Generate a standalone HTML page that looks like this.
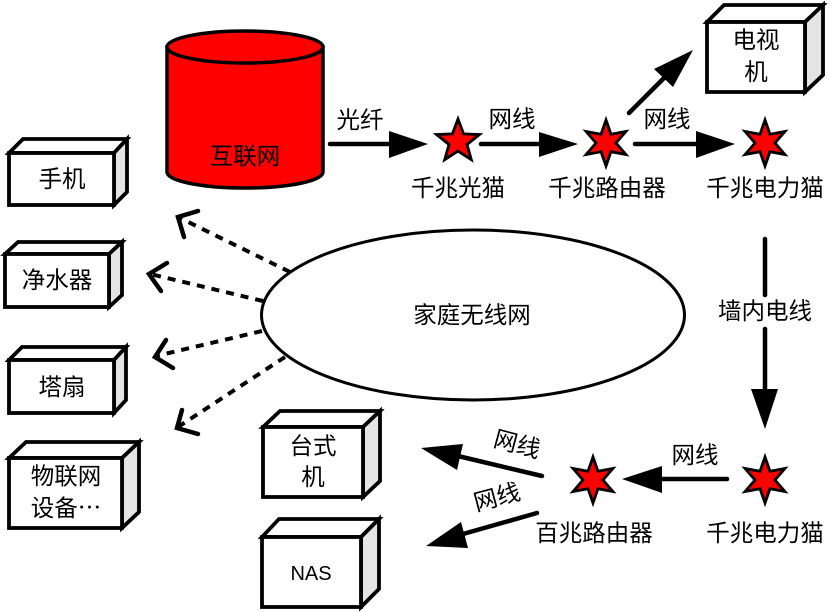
<!DOCTYPE html>
<html><head><meta charset="utf-8"><style>
html,body{margin:0;padding:0;background:#fff}
svg{display:block}
text{font-family:"Liberation Sans","Noto Sans CJK SC",sans-serif;font-size:23.5px;text-anchor:middle;fill:#000}
.b{fill:#fff;stroke:#000;stroke-width:3.8;stroke-linejoin:miter}
.s{fill:#e4e4e4;stroke:#000;stroke-width:3.8}
.l{stroke:#000;stroke-width:4.5;fill:none;stroke-linecap:round}
.d{stroke:#000;stroke-width:4;fill:none;stroke-dasharray:8 7}
.o{stroke:#000;stroke-width:4.5;fill:none;stroke-linecap:round;stroke-linejoin:miter}
.star{fill:#f00;stroke:#000;stroke-width:2.8;stroke-linejoin:miter;stroke-miterlimit:12}
</style></head><body>
<svg width="835" height="612" viewBox="0 0 835 612" xmlns="http://www.w3.org/2000/svg">
<defs>
<polygon id="s6" class="star" points="0,-23 5,-8.7 19.9,-11.5 10,0 19.9,11.5 5,8.7 0,23 -5,8.7 -19.9,11.5 -10,0 -19.9,-11.5 -5,-8.7"/>
</defs>

<!-- boxes -->
<g>
<path class="b" d="M9 153L23 139H127L114 153Z"/><path class="s" d="M114 153L127 139V192L114 205Z"/><rect class="b" x="9" y="153" width="105" height="52"/>
<path class="b" d="M5 254L18 242H122L109 254Z"/><path class="s" d="M109 254L122 242V295L109 307Z"/><rect class="b" x="5" y="254" width="104" height="53"/>
<path class="b" d="M9 360L22 347H126L114 360Z"/><path class="s" d="M114 360L126 347V400L114 413Z"/><rect class="b" x="9" y="360" width="105" height="53"/>
<path class="b" d="M9 458L26 442H139L122 458Z"/><path class="s" d="M122 458L139 442V512L122 528Z"/><rect class="b" x="9" y="458" width="113" height="70"/>
<path class="b" d="M707 22L724 5H823L805 22Z"/><path class="s" d="M805 22L823 5V75L805 92Z"/><rect class="b" x="707" y="22" width="98" height="70"/>
<path class="b" d="M263 427L280 411H380L363 427Z"/><path class="s" d="M363 427L380 411V481L363 497Z"/><rect class="b" x="263" y="427" width="100" height="70"/>
<path class="b" d="M262 537L279 519H379L361 537Z"/><path class="s" d="M361 537L379 519V589L361 607Z"/><rect class="b" x="262" y="537" width="99" height="70"/>
</g>

<!-- cylinder -->
<path d="M167 47V172C167 181 202 188 245 188C288 188 323 181 323 172V47Z" fill="#f00" stroke="#000" stroke-width="3.5"/>
<ellipse cx="245" cy="47" rx="78" ry="16" fill="#f00" stroke="#000" stroke-width="3.5"/>

<!-- ellipse -->
<ellipse cx="473" cy="315" rx="211.5" ry="85" fill="#fff" stroke="#000" stroke-width="3"/>

<!-- dashed -->
<line class="d" x1="290" y1="272" x2="178" y2="217"/>
<polyline class="o" points="198,211 178,217 184,237"/>
<line class="d" x1="263" y1="301" x2="150" y2="274"/>
<polyline class="o" points="167,263 149,274 161,291"/>
<line class="d" x1="262" y1="331" x2="156" y2="356"/>
<polyline class="o" points="166,340 155,357 173,368"/>
<line class="d" x1="285" y1="357" x2="178" y2="427"/>
<polyline class="o" points="182,410 177,428 198,434"/>

<!-- arrows -->
<line class="l" x1="330" y1="144" x2="392" y2="144"/><polygon points="389,131 428,144 389,158"/>
<line class="l" x1="481" y1="144" x2="542" y2="144"/><polygon points="539,132 578,144 539,157"/>
<line class="l" x1="635" y1="144" x2="699" y2="144"/><polygon points="696,131 735,144 696,158"/>
<line class="l" x1="629" y1="113" x2="665" y2="77"/><polygon points="693,50 654,69 673,87"/>
<line class="l" x1="765" y1="239" x2="765" y2="295"/>
<line class="l" x1="765" y1="329" x2="765" y2="392"/><polygon points="751,389 778,389 765,429"/>
<line class="l" x1="727" y1="479" x2="659" y2="479"/><polygon points="662,466 662,493 622,479"/>
<line class="l" x1="542" y1="476" x2="458" y2="456"/><polygon points="463,444 457,470 421,448"/>
<line class="l" x1="537" y1="513" x2="463" y2="534"/><polygon points="461,522 468,548 426,546"/>

<!-- stars -->
<polygon class="star" transform="translate(458,141.5)" points="0,-22.5 5.6,-7.6 21.5,-7 9,3 13.3,18.2 0,9.6 -13.3,18.2 -9,3 -21.5,-7 -5.6,-7.6"/>
<use href="#s6" x="606" y="143"/>
<use href="#s6" x="765" y="143"/>
<use href="#s6" x="593" y="480"/>
<use href="#s6" x="765" y="480"/>

<!-- labels -->
<text x="62" y="187">手机</text>
<text x="57" y="288">净水器</text>
<text x="62" y="395">塔扇</text>
<text x="66" y="484">物联网</text>
<text x="66" y="516">设备⋯</text>
<text x="756" y="48">电视</text>
<text x="756" y="80">机</text>
<text x="313" y="454">台式</text>
<text x="313" y="485">机</text>
<text x="311" y="580" style="font-size:20px">NAS</text>
<text x="245" y="164">互联网</text>
<text x="360" y="128">光纤</text>
<text x="512" y="127">网线</text>
<text x="667" y="127">网线</text>
<text x="458" y="196">千兆光猫</text>
<text x="607" y="196">千兆路由器</text>
<text x="765" y="196">千兆电力猫</text>
<text x="472" y="323">家庭无线网</text>
<text x="765" y="319">墙内电线</text>
<text x="695" y="463">网线</text>
<text x="765" y="541">千兆电力猫</text>
<text x="594" y="541">百兆路由器</text>
<text transform="translate(515,452) rotate(15)">网线</text>
<text transform="translate(499,505) rotate(-15)">网线</text>
</svg>
</body></html>
